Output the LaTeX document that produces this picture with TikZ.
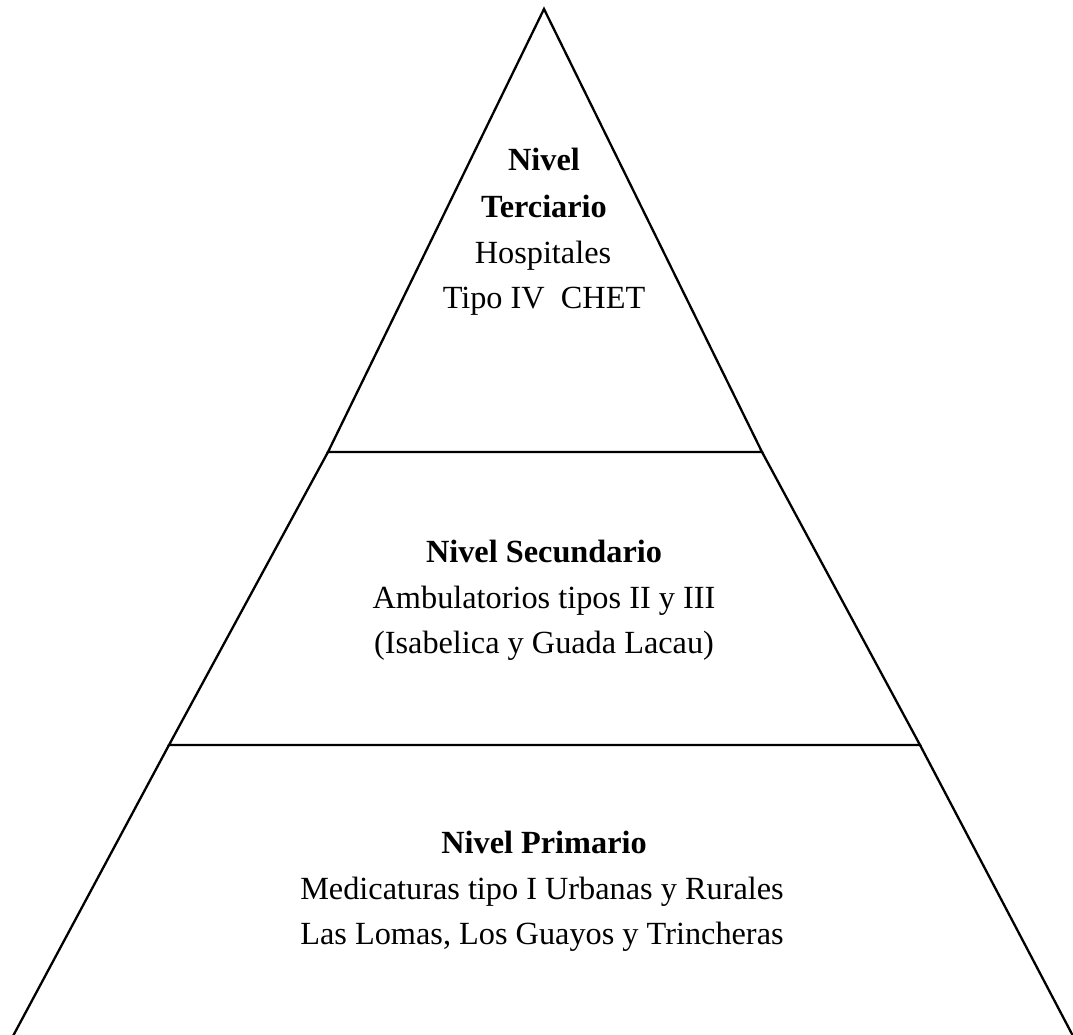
\documentclass[tikz,border=0pt]{standalone}
\usepackage{fontspec}
\setmainfont{Liberation Serif}
\begin{document}
\begin{tikzpicture}[x=1pt,y=-1pt,
  edge/.style={line width=2.3pt,line join=miter,black},
  txt/.style={anchor=base,inner sep=0pt,font=\fontsize{32.3}{45}\selectfont},
  btxt/.style={txt,font=\fontsize{32.3}{45}\selectfont\bfseries}]
\useasboundingbox (0,0) rectangle (1073,1034);
\coordinate (apex) at (544,9);
\coordinate (tl) at (328,452);
\coordinate (tr) at (762,452);
\coordinate (ml) at (169,745);
\coordinate (mr) at (920,745);
\coordinate (bl) at (13,1036);
\coordinate (br) at (1073,1036);
% tiers
\draw[edge] (apex) -- (tl) -- (tr) -- cycle;
\draw[edge] (tl) -- (ml) -- (mr) -- (tr);
\draw[edge] (ml) -- (bl);
\draw[edge] (mr) -- (br);
% top text
\node[btxt] (t1) at (544,170) {Nivel};
\node[btxt] (t2) at (544,217) {Terciario};
\node[txt] (t3) at (543,263) {Hospitales};
\node[txt] (t4) at (544,308) {Tipo IV\ \ CHET};
% middle text
\node[btxt] (m1) at (544,562) {Nivel Secundario};
\node[txt] (m2) at (544,608) {Ambulatorios tipos II y III};
\node[txt] (m3) at (544,653) {(Isabelica y Guada Lacau)};
% bottom text
\node[btxt] (b1) at (544,853) {Nivel Primario};
\node[txt] (b2) at (542,899) {Medicaturas tipo I Urbanas y Rurales};
\node[txt] (b3) at (542,944) {Las Lomas, Los Guayos y Trincheras};
\end{tikzpicture}
\end{document}
